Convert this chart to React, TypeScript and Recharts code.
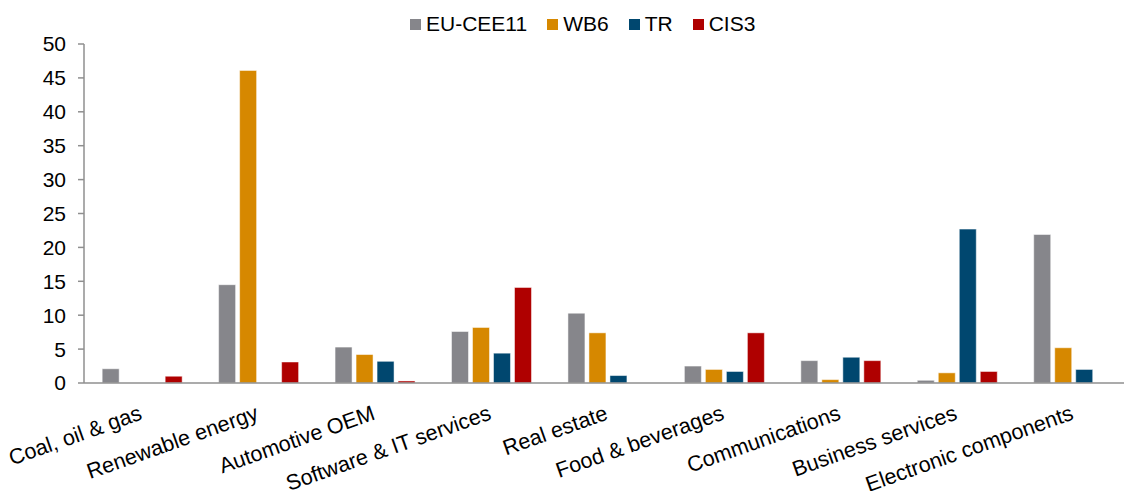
import React from 'react';
import { Bar, BarChart, Legend, XAxis, YAxis } from 'recharts';

const categories = [
  'Coal, oil & gas',
  'Renewable energy',
  'Automotive OEM',
  'Software & IT services',
  'Real estate',
  'Food & beverages',
  'Communications',
  'Business services',
  'Electronic components',
];

const euCee11 = [2.1, 14.5, 5.3, 7.6, 10.3, 2.5, 3.3, 0.4, 21.9];
const wb6 = [0, 46.1, 4.2, 8.2, 7.4, 2.0, 0.5, 1.5, 5.2];
const tr = [0, 0, 3.2, 4.4, 1.1, 1.7, 3.8, 22.7, 2.0];
const cis3 = [1.0, 3.1, 0.3, 14.1, 0, 7.4, 3.3, 1.7, 0];

const yTicks = [0, 5, 10, 15, 20, 25, 30, 35, 40, 45, 50];

const series = [
  { key: 'EU-CEE11', color: '#86868B' },
  { key: 'WB6', color: '#D68800' },
  { key: 'TR', color: '#00476F' },
  { key: 'CIS3', color: '#AF0000' },
];

const data = categories.map((name, i) => ({
  name,
  'EU-CEE11': euCee11[i],
  WB6: wb6[i],
  TR: tr[i],
  CIS3: cis3[i],
}));

const FONT = '"Liberation Sans", Arial, sans-serif';

const CategoryTick = (props: any) => {
  const { x, y, payload } = props;
  return (
    <g transform={`translate(${x + 1},${y + 28}) rotate(-19.5)`}>
      <text x={0} y={0} textAnchor="end" fill="#000" fontSize={21.6} fontFamily={FONT}>
        {payload.value}
      </text>
    </g>
  );
};

const LegendContent = () => (
  <div style={{ display: 'flex', paddingLeft: 410, gap: 20, fontFamily: FONT }}>
    {series.map((s) => (
      <div key={s.key} style={{ display: 'flex', alignItems: 'center' }}>
        <span style={{ width: 11, height: 11, background: s.color, marginRight: 5 }} />
        <span style={{ fontSize: 21, lineHeight: '24px', color: '#000' }}>{s.key}</span>
      </div>
    ))}
  </div>
);

export default function App() {
  return (
    <div style={{ position: 'absolute', left: 0, top: 0, width: 1124, height: 491, overflow: 'hidden', background: '#fff' }}>
      <BarChart
        width={1132}
        height={491}
        data={data}
        margin={{ top: 44, right: 0, bottom: 0, left: 0 }}
        barCategoryGap="15.6%"
        barGap={4}
      >
        <XAxis
          dataKey="name"
          height={108}
          interval={0}
          tickLine={false}
          axisLine={{ stroke: '#8F8F8F', strokeWidth: 1.5 }}
          tick={<CategoryTick />}
        />
        <YAxis
          width={84}
          domain={[0, 50]}
          ticks={yTicks}
          interval={0}
          tickSize={6}
          tickMargin={12}
          axisLine={{ stroke: '#8F8F8F', strokeWidth: 1.5 }}
          tickLine={{ stroke: '#8F8F8F', strokeWidth: 1.5 }}
          tick={{ fill: '#000', fontSize: 21, fontFamily: FONT }}
        />
        <Legend
          verticalAlign="middle"
          content={<LegendContent />}
          wrapperStyle={{ top: 12, left: 0, width: 1124 }}
        />
        {series.map((s) => (
          <Bar
            key={s.key}
            dataKey={s.key}
            fill={s.color}
            stroke="#ffffff"
            strokeOpacity={0.5}
            strokeWidth={1}
            isAnimationActive={false}
          />
        ))}
      </BarChart>
    </div>
  );
}
